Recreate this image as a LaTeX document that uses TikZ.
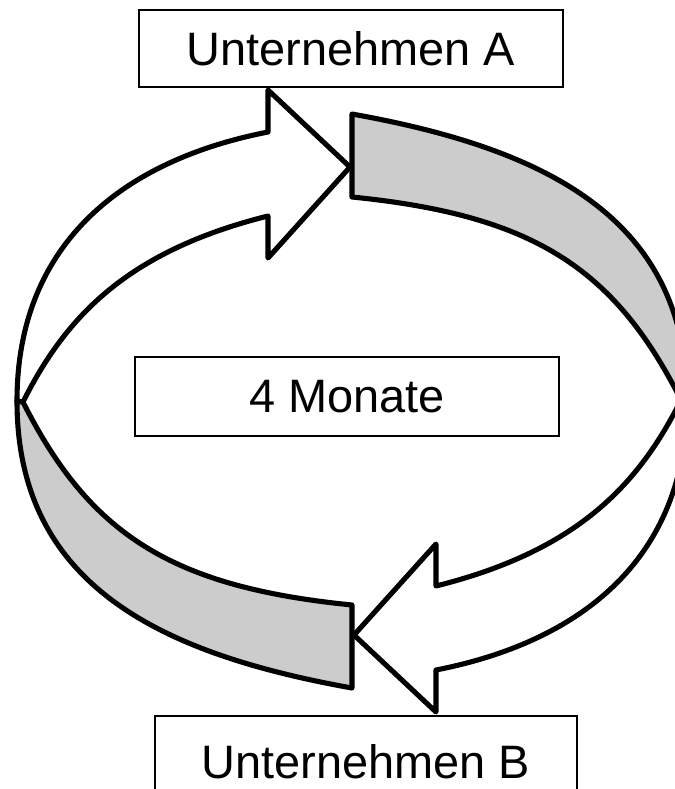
\documentclass[tikz,border=0pt]{standalone}
\usepackage{fontspec}
\setmainfont{Liberation Sans}
\usepackage{tikz}
\usetikzlibrary{calc, positioning}
\definecolor{bandgray}{RGB}{204,204,204}
\tikzstyle{firm}=[draw, fill=white, line width=1.1pt, inner sep=0pt, font=\fontsize{26.7}{32}\selectfont]
\tikzstyle{ring}=[draw, line width=2.9pt, line join=round]

\begin{document}
\begin{tikzpicture}[x=0.02cm, y=-0.02cm]
		\useasboundingbox (0,0) rectangle (674,789);
		\coordinate (c) at (352,401);

		% both halves of the cycle, the second one turned by 180 degrees
		\foreach \r in {0,180}{
			\begin{scope}[rotate around={\r:(c)}]
				\path[ring, fill=bandgray] (17,401) .. controls (17,586) and (162,654) .. (352,688)
					-- (352,605) .. controls (172,587) and (90,535) .. (23,402) -- cycle;
				\path[ring, fill=white] (17,401) .. controls (17,250) and (115,162) .. (268,132)
					-- (268,90) -- (350,167) -- (268,258)
					-- (268,216) .. controls (128,251) and (66,316) .. (23,402) -- cycle;
			\end{scope}
		}

		\node[firm, minimum width=8.48cm, minimum height=1.54cm] (firmA) at (351,48.5) {Unternehmen A};
		\node[firm, minimum width=8.48cm, minimum height=1.58cm] (months) at (347,396.5) {4 Monate};
		\node[firm, minimum width=8.44cm, minimum height=1.84cm] (firmB) at (366,762) {Unternehmen B};
\end{tikzpicture}
\end{document}
